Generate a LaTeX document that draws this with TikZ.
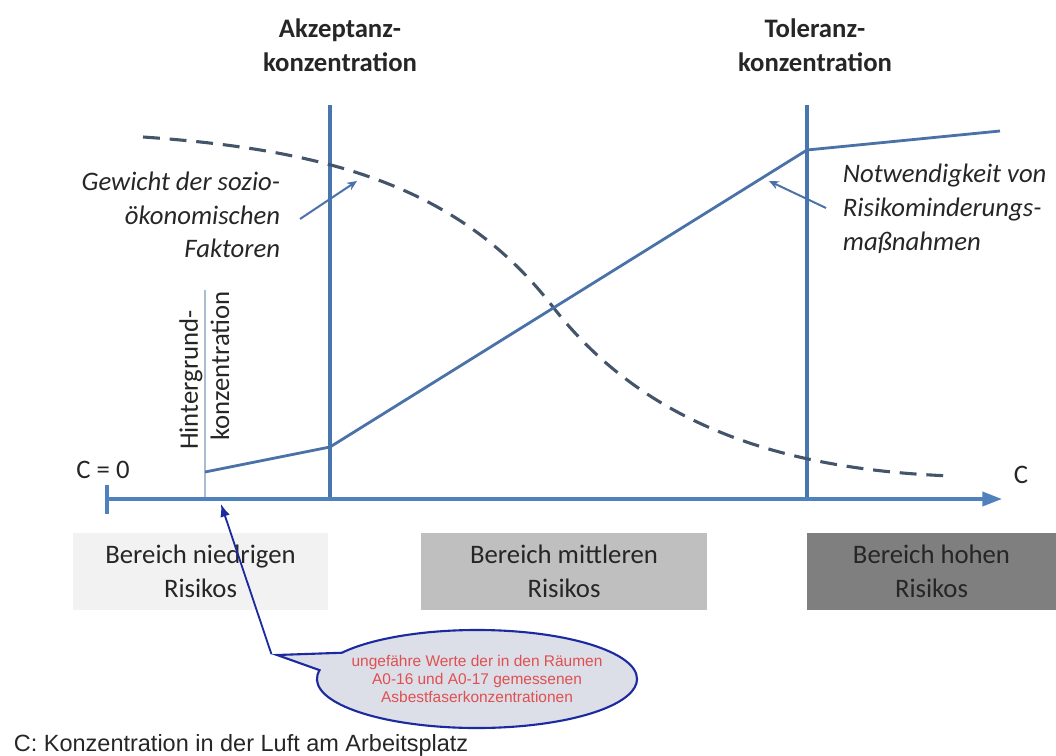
\documentclass[tikz,border=0pt]{standalone}
\usepackage{fontspec}
\setmainfont{Carlito}
\newfontfamily\arialfont{Liberation Sans}
\usetikzlibrary{arrows.meta,shapes.callouts}
\definecolor{axisblue}{HTML}{4F81BD}
\definecolor{limitblue}{HTML}{4A76B0}
\definecolor{curveblue}{HTML}{4A72A8}
\definecolor{dashgray}{HTML}{44546A}
\definecolor{bgline}{HTML}{A9BCD0}
\definecolor{lowfill}{HTML}{F2F2F2}
\definecolor{midfill}{HTML}{BFBFBF}
\definecolor{highfill}{HTML}{7F7F7F}
\definecolor{noteblue}{HTML}{1C2AA0}
\definecolor{notefill}{HTML}{DCDEE8}
\definecolor{notered}{HTML}{E05050}
\newcommand\chartsize{\fontsize{19}{24}\selectfont}
\begin{document}
\begin{tikzpicture}[x=0.025cm,y=-0.025cm,
    limit/.style={draw=limitblue,line width=2.2pt},
    heading/.style={align=center,font=\chartsize\bfseries,text=black!85},
    remark/.style={font=\chartsize\itshape,text=black!85},
    zone/.style={minimum height=1.925cm,inner sep=0pt,align=center,
      font=\chartsize,text=black!85},
    pointer/.style={draw=curveblue,line width=1.4pt,-{Stealth[length=7pt,width=6pt]}}]
  \useasboundingbox (0,0) rectangle (1056,755);

  % headings of the two limits
  \node[heading] (acc) at (340,45) {Akzeptanz-\\konzentration};
  \node[heading] (tol) at (815,45) {Toleranz-\\konzentration};

  % limits and background
  \coordinate (acctop) at (330,105);
  \coordinate (accbot) at (330,499);
  \coordinate (toltop) at (807,105);
  \coordinate (tolbot) at (807,499);
  \coordinate (bgtop) at (205,290);
  \coordinate (bgbot) at (205,499);
  \draw[draw=bgline,line width=1pt] (bgtop) -- (bgbot);
  \draw[limit] (acctop) -- (accbot);
  \draw[limit] (toltop) -- (tolbot);
  \node[rotate=90,font=\chartsize,text=black!85] (bg1) at (191,380) {Hintergrund-};
  \node[rotate=90,font=\chartsize,text=black!85] (bg2) at (220,366) {konzentration};

  % axis
  \coordinate (c0) at (107,499);
  \coordinate (cend) at (1002,499);
  \draw[axisblue,line width=2.6pt,-{Triangle[length=14pt,width=10pt]}] (c0) -- (cend);
  \draw[axisblue,line width=2.6pt] (107,485) -- (107,514);
  \node[font=\chartsize,text=black!85] (zero) at (103,470) {C = 0};
  \node[font=\chartsize,text=black!85] (cname) at (1021,475) {C};

  % weight of socio-economic factors
  \draw[dashgray,line width=2.2pt,dash pattern=on 12pt off 7pt]
    (143,137) .. controls (330,150) and (460,187) .. (553,307)
    .. controls (648,429) and (790,470) .. (952,476);

  % need of risk reduction
  \coordinate (s0) at (205,472);
  \coordinate (s1) at (330,447);
  \coordinate (s2) at (807,150);
  \coordinate (s3) at (1000,131);
  \draw[curveblue,line width=2pt] (s0) -- (s1) -- (s2) -- (s3);

  \node[remark,align=right,anchor=east] (weight) at (285,215)
    {Gewicht der sozio-\\ökonomischen\\Faktoren};
  \node[remark,align=left,anchor=west] (need) at (838,209)
    {Notwendigkeit von\\Risikominderungs-\\maßnahmen};
  \coordinate (wfrom) at (300,219);
  \coordinate (wto) at (357,181);
  \coordinate (nfrom) at (826,208);
  \coordinate (nto) at (769,181);
  \draw[pointer] (wfrom) -- (wto);
  \draw[pointer] (nfrom) -- (nto);

  % risk zones
  \node[zone,fill=lowfill,minimum width=6.375cm] (low) at (200.5,571.5)
    {Bereich niedrigen\\Risikos};
  \node[zone,fill=midfill,minimum width=7.15cm] (mid) at (564,571.5)
    {Bereich mittleren\\Risikos};
  \node[zone,fill=highfill,minimum width=6.225cm] (high) at (931.5,571.5)
    {Bereich hohen\\Risikos};

  % measured values
  \node[ellipse callout,draw=noteblue,fill=notefill,line width=1.5pt,
    minimum width=8cm,minimum height=2.45cm,inner sep=0pt,
    callout absolute pointer={(277,655)},callout pointer arc=22] (note) at (477,679) {};
  \node[align=center,font=\arialfont\fontsize{11}{12.8}\selectfont,text=notered] (notetext)
    at (note.center) {ungefähre Werte der in den Räumen\\A0-16 und A0-17 gemessenen\\Asbestfaserkonzentrationen};
  \coordinate (bgmark) at (221,504);
  \draw[noteblue,line width=1.3pt,-{Latex[length=9pt,width=7pt]}] (note.pointer) -- (bgmark);

  \node[anchor=west,font=\arialfont\fontsize{16.7}{19}\selectfont,text=black!85] (caption)
    at (9,745) {C: Konzentration in der Luft am Arbeitsplatz};
\end{tikzpicture}
\end{document}
